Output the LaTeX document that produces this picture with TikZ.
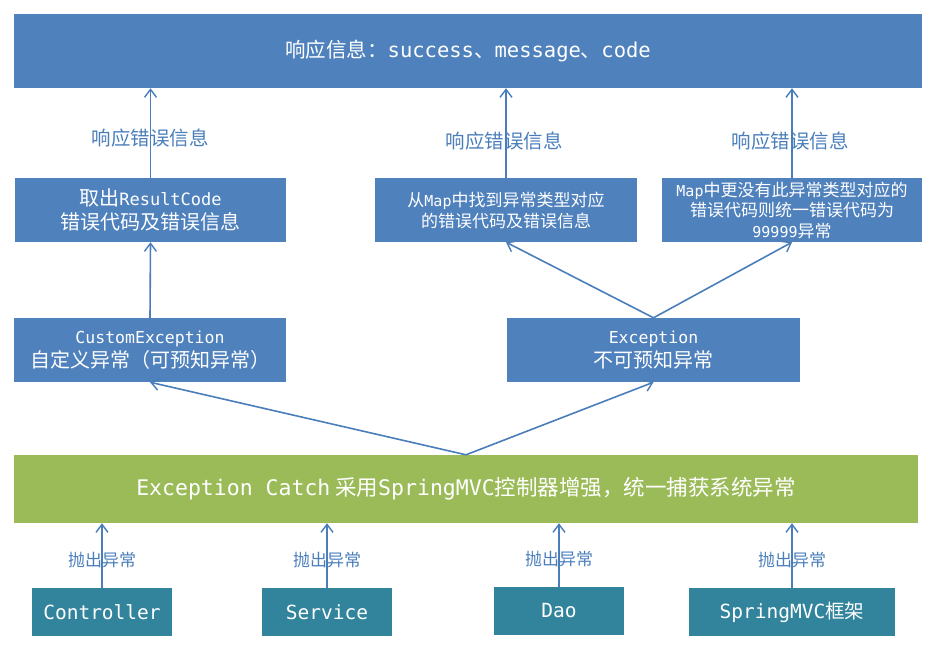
\documentclass[tikz,border=0pt]{standalone}
\usepackage{fontspec}
\setmainfont{Noto Sans CJK SC}
\newfontfamily\latmono{DejaVu Sans Mono}
\usetikzlibrary{arrows.meta,positioning,calc}
\definecolor{boxblue}{RGB}{79,129,189}
\definecolor{boxgreen}{RGB}{155,187,89}
\definecolor{boxteal}{RGB}{49,132,155}
\definecolor{lineblue}{RGB}{74,126,187}
\tikzset{
  bluebox/.style={fill=boxblue, text=white, inner sep=0pt, align=center},
  tealbox/.style={fill=boxteal, text=white, inner sep=0pt, font=\fontsize{19.5}{22}\selectfont},
  upline/.style={draw=lineblue, line width=1.6pt, -{Straight Barb[length=8pt,width=12pt,line width=1.4pt]}},
  resplabel/.style={text=lineblue, font=\fontsize{19.5}{22}\selectfont},
  throwlabel/.style={text=lineblue, font=\fontsize{17}{19}\selectfont}
}
\begin{document}
\begin{tikzpicture}[x=1pt, y=-1pt]
  \useasboundingbox (0,0) rectangle (936,650);

  % Response box
  \node[bluebox, minimum width=908pt, minimum height=74pt, font=\fontsize{20.5}{24}\selectfont]
    (resp) at (468,51) {\raisebox{-2pt}{响应信息：{\latmono success}、{\latmono message}、{\latmono code}}};

  % Error code boxes
  \node[bluebox, minimum width=271pt, minimum height=64pt, font=\fontsize{20}{24}\selectfont]
    (resultcode) at (150.5,210) {取出{\latmono\fontsize{17}{24}\selectfont ResultCode}\\错误代码及错误信息};
  \node[bluebox, minimum width=262pt, minimum height=64pt, font=\fontsize{17}{21}\selectfont]
    (mapfound) at (506,210) {从{\latmono\fontsize{15}{21}\selectfont Map}中找到异常类型对应\\的错误代码及错误信息};
  \node[bluebox, minimum width=260pt, minimum height=64pt, font=\fontsize{17}{20.5}\selectfont]
    (mapnone) at (792,210) {{\latmono\fontsize{15}{20.5}\selectfont Map}中更没有此异常类型对应的\\错误代码则统一错误代码为\\{\latmono\fontsize{15}{20.5}\selectfont 99999}异常};

  % Exception boxes
  \node[bluebox, minimum width=272pt, minimum height=64pt, font=\fontsize{20}{24}\selectfont]
    (custom) at (150,350) {{\latmono\fontsize{16.5}{24}\selectfont CustomException}\\自定义异常（可预知异常）};
  \node[bluebox, minimum width=293pt, minimum height=64pt, font=\fontsize{20}{24}\selectfont]
    (exc) at (653.5,350) {{\latmono\fontsize{16.5}{24}\selectfont Exception}\\不可预知异常};

  % Catch box
  \node[fill=boxgreen, text=white, inner sep=0pt, minimum width=904pt, minimum height=68pt,
    font=\fontsize{21.5}{24}\selectfont]
    (catch) at (466,489) {{\latmono Exception Catch} 采用{\latmono SpringMVC}控制器增强，统一捕获系统异常};

  % Layer boxes
  \node[tealbox, minimum width=140pt, minimum height=48pt] (ctrl) at (102,612) {\latmono Controller};
  \node[tealbox, minimum width=130pt, minimum height=48pt] (serv) at (327,612) {\latmono Service};
  \node[tealbox, minimum width=130pt, minimum height=48pt] (dao) at (559,611) {\latmono Dao};
  \node[tealbox, minimum width=206pt, minimum height=48pt] (mvc) at (792,612) {{\latmono SpringMVC}框架};

  % Response arrows
  \draw[upline] (resultcode.north) -- (resultcode.north |- resp.south);
  \draw[upline] (mapfound.north) -- (mapfound.north |- resp.south);
  \draw[upline] (mapnone.north) -- (mapnone.north |- resp.south);
  \node[resplabel] (resp1) at (150,138) {响应错误信息};
  \node[resplabel] (resp2) at (504,141) {响应错误信息};
  \node[resplabel] (resp3) at (790,141) {响应错误信息};

  % Exception to error code
  \draw[upline] (custom.north) -- (resultcode.south);
  \draw[upline] (exc.north) -- (mapfound.south);
  \draw[upline] (exc.north) -- (mapnone.south);

  % Catch to exceptions
  \draw[upline] (catch.north) -- (custom.south);
  \draw[upline] (catch.north) -- (exc.south);

  % Thrown exceptions
  \foreach \src in {ctrl,serv,dao,mvc} {
    \draw[upline] (\src.north) -- (\src.north |- catch.south);
    \node[throwlabel] at ($(\src.north)+(0,-28)$) {抛出异常};
  }
\end{tikzpicture}
\end{document}
